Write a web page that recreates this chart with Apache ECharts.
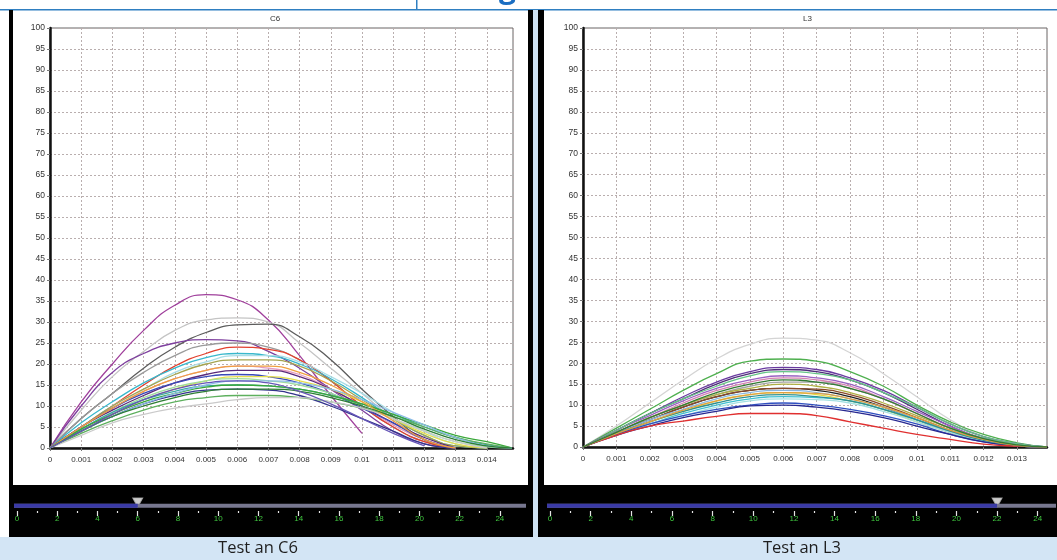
<!DOCTYPE html>
<html>
<head>
<meta charset="utf-8">
<script src="https://cdn.jsdelivr.net/npm/echarts@6/dist/echarts.min.js"></script>
<style>
  html, body { margin: 0; padding: 0; background: #fff; }
  #main { width: 1057px; height: 560px; }
</style>
</head>
<body>
<div id="main"></div>
<script>
// x samples (strain) for each panel
var c6X = [0, 0.001, 0.002, 0.003, 0.004, 0.005, 0.006, 0.007, 0.008, 0.009, 0.010, 0.011, 0.012, 0.013, 0.014, 0.0148];
var l3X = [0, 0.001, 0.002, 0.003, 0.004, 0.005, 0.006, 0.007, 0.008, 0.009, 0.010, 0.011, 0.012, 0.013, 0.0139];

// C6 curves (force values at each x sample)
var c6Values = [
  [0, 11, 20, 28, 34, 36.5, 35.3, 30.5, 22, 12.5, 3.5],
  [0, 9, 17, 23, 28, 30.5, 31, 30, 25, 19, 13, 7, 2, 0],
  [0, 7, 13, 19, 24, 27.5, 29.3, 29.5, 26.5, 21, 14, 7.5, 2, 0],
  [0, 10, 18, 22.5, 25, 25.8, 25.5, 23, 19, 14, 9, 4, 1, 0],
  [0, 7, 13, 18, 22, 24.5, 25, 24, 21, 16, 10, 5, 1.5, 0],
  [0, 5, 10, 15, 19.5, 22.5, 24, 23.5, 21, 16, 10, 5, 1.5, 0],
  [0, 6, 11, 15.5, 19, 21.5, 22.5, 22, 20, 16.5, 12, 7, 3, 0.5, 0],
  [0, 5, 10, 14, 18, 20.5, 22, 22, 20.5, 17, 13, 8.5, 4, 1, 0],
  [0, 5, 10, 14, 17.5, 20, 21, 21, 19.5, 16, 11.5, 7, 3, 0.5, 0],
  [0, 5, 9.5, 13.5, 16.5, 18.5, 19.5, 19, 17.5, 14, 10, 5.5, 2, 0],
  [0, 5, 9, 12.5, 15.5, 17.5, 18.5, 18.5, 17, 14, 10, 6, 2.5, 0],
  [0, 5, 9.5, 13, 15.5, 17, 17.5, 17, 15.5, 13, 9.5, 6, 2, 0],
  [0, 4, 8, 11.5, 14, 16, 17, 17, 16, 14, 11, 7, 3.5, 1, 0],
  [0, 4.5, 8.5, 12, 14.5, 16, 16.5, 16, 15, 13, 10, 7, 4, 1.5, 0.3, 0],
  [0, 4.5, 8.5, 11.5, 13.5, 14.8, 15, 14.8, 14, 12.5, 10.5, 8, 5, 2.5, 0.8, 0],
  [0, 4.5, 8, 11, 13, 14.5, 15, 14.8, 14, 12.5, 10.5, 8, 5.5, 3, 1.5, 0],
  [0, 4, 7.5, 10.5, 12.5, 13.8, 14, 13.8, 12.5, 10, 7, 4, 1, 0],
  [0, 3.5, 6.5, 9, 11, 12, 12.5, 12.5, 12, 11, 9.5, 7.5, 5, 2.5, 1, 0],
  [0, 4, 7.5, 10.5, 13, 15, 16, 16, 15.5, 14, 11.5, 8.5, 5.5, 2.5, 0.5, 0],
  [0, 3, 6, 8, 9.5, 10.5, 11.5, 12, 12, 11, 9.5, 7, 4, 1.5, 0],
  [0, 5, 9.5, 13.5, 16.5, 18.5, 19.5, 19.5, 18, 15, 11, 6.5, 2, 0],
  [0, 4, 7.5, 10, 12, 13.5, 14, 14, 13.5, 12, 10, 7.5, 4.5, 2, 0.5, 0],
  [0, 4, 8, 11.5, 14, 15.5, 16, 15.5, 13.5, 10.5, 7, 3.5, 0.5]
];
var c6Colors = ['#a0409c', '#c4c4c4', '#5c5c5c', '#7e3f9e', '#9a9a9a', '#e2402e', '#38b8cc', '#a8dde6',
  '#a4a450', '#e49ac0', '#5a2a7a', '#3a4ab8', '#e6de4c', '#9edc9e', '#3ea8a8', '#3aa83a',
  '#34348c', '#5eb05e', '#8cbce6', '#cacaca', '#f0a040', '#2f7f35', '#6656b8'];

// L3 curves
var l3Values = [
  [0, 5, 10.5, 16, 21, 24.5, 26, 25.5, 22.5, 17.5, 12, 6.5, 2.5, 0.5, 0],
  [0, 4.5, 9, 13.5, 17.5, 20.5, 21, 20.5, 18, 14.5, 10, 6, 3, 1, 0],
  [0, 4, 8, 12, 15.5, 18, 19, 18.5, 16.5, 13.5, 9.5, 5.5, 2.5, 0.8, 0],
  [0, 4, 8, 11.5, 15, 17.5, 18.5, 18, 16, 13, 9, 5, 2, 0.5, 0],
  [0, 4, 7.5, 11, 14, 16, 17, 16.5, 15, 12, 8.5, 5, 2, 0.5, 0],
  [0, 3.5, 7, 10.5, 13.5, 15.5, 16.5, 16, 14.5, 11.5, 8, 4.5, 1.8, 0.4, 0],
  [0, 4, 8, 11.5, 14.5, 17, 18, 17.5, 16, 13, 9.5, 5.5, 2.5, 0.8, 0],
  [0, 3.5, 7, 10, 12.5, 14.5, 15.5, 15.5, 14, 11.5, 8, 4.5, 2, 0.5, 0],
  [0, 3.5, 7, 10, 12.5, 14, 15, 14.5, 13, 10.5, 7.5, 4.5, 2, 0.5, 0],
  [0, 3.5, 6.5, 9.5, 12, 13.5, 14, 13.5, 12, 9.5, 6.5, 3.5, 1.5, 0.3, 0],
  [0, 3.5, 6.5, 9.5, 12, 13.5, 14, 13.8, 12.5, 10, 7, 4, 1.5, 0.3, 0],
  [0, 3, 6, 8.5, 11, 12.5, 13, 12.5, 11, 9, 6, 3.5, 1.5, 0.3, 0],
  [0, 3.5, 6.5, 9, 11.5, 13, 13.5, 13, 11.5, 9.5, 6.5, 3.5, 1.5, 0.3, 0],
  [0, 3, 5.5, 8, 10, 11.5, 12, 11.8, 11, 9, 6.5, 4, 2, 0.5, 0],
  [0, 3, 5.5, 7.5, 9.5, 11, 11.5, 11.3, 10.5, 8.5, 6, 3.5, 1.5, 0.3, 0],
  [0, 3, 5.5, 7.5, 9, 10, 10.5, 10, 9, 7.5, 5.5, 3, 1.2, 0.3, 0],
  [0, 2.8, 5, 7, 8.5, 9.8, 10, 9.5, 8.5, 7, 5, 3, 1.2, 0.3, 0],
  [0, 2.8, 5, 6.2, 7.3, 8, 8, 7.5, 6, 4.5, 3, 1.8, 0.7, 0.2, 0],
  [0, 3.2, 6, 8.5, 10.5, 12, 12.5, 12, 11, 9, 6.5, 3.8, 1.6, 0.4, 0],
  [0, 3.2, 6, 8.8, 11, 12.5, 13, 12.8, 11.5, 9.5, 7, 4, 1.8, 0.4, 0],
  [0, 3.5, 7, 10, 13, 15, 16, 15.5, 14, 11.5, 8, 4.5, 2, 0.5, 0]
];
var l3Colors = ['#d4d4d4', '#4fb04f', '#6a3aa0', '#4e2e7a', '#9a62c2', '#d482b2', '#64c486', '#a4a4a4',
  '#b0b044', '#222222', '#8a4a2a', '#e2da44', '#8ab8e0', '#40c0d0', '#a4e0e2', '#3050c0',
  '#282890', '#e03030', '#309090', '#e0a040', '#347a34'];

// sliders under each panel
var sliderMajor = [0, 2, 4, 6, 8, 10, 12, 14, 16, 18, 20, 22, 24];
var sliderMinor = [1, 3, 5, 7, 9, 11, 13, 15, 17, 19, 21, 23];
var sliderValues = [6, 22];
var trackStarts = [-0.15, -0.15];
var trackEnds = [25.3, 24.9];

var chart = echarts.init(document.getElementById('main'));

function strainLabel(v) {
  var k = Math.round(v * 1000);
  if (Math.abs(v * 1000 - k) > 1e-6) return '';
  return k === 0 ? '0' : String(+(k / 1000).toFixed(3));
}

var gridLine = { show: true, lineStyle: { color: '#b9aeae', type: [2, 2], width: 1 } };

function plotX(grid, max) {
  return {
    type: 'value', gridIndex: grid, min: 0, max: max, interval: 0.001,
    axisLine: { show: true, onZero: false, lineStyle: { color: '#111', width: 2.5 } },
    axisTick: { show: true, length: 3, lineStyle: { color: '#777' } },
    axisLabel: { fontSize: 8, color: '#333', margin: 8, fontFamily: 'Liberation Sans', formatter: strainLabel, showMaxLabel: false },
    splitLine: gridLine
  };
}
function plotY(grid) {
  return {
    type: 'value', gridIndex: grid, min: 0, max: 100, interval: 5,
    axisLine: { show: true, onZero: false, lineStyle: { color: '#111', width: 2.5 } },
    axisTick: { show: true, length: 3, lineStyle: { color: '#777' } },
    axisLabel: { fontSize: 8.5, color: '#333', margin: 5, fontFamily: 'Liberation Sans' },
    splitLine: gridLine
  };
}
function sliderX(grid, k, ticks, len, labels) {
  return {
    type: 'value', gridIndex: grid, position: 'bottom', offset: 0,
    min: trackStarts[k], max: trackEnds[k],
    axisLine: { show: false },
    axisTick: { show: true, length: len, customValues: ticks, lineStyle: { color: '#e4e4e4', width: 1.2 } },
    axisLabel: { show: labels, customValues: ticks, fontSize: 8, color: '#3ec43e', margin: 4, fontFamily: 'Liberation Sans' },
    splitLine: { show: false }
  };
}
function sliderY(grid) {
  return { type: 'value', gridIndex: grid, min: 0, max: 1, show: false };
}

var series = [];
c6Values.forEach(function (ys, i) {
  series.push({
    type: 'line', xAxisIndex: 0, yAxisIndex: 0, smooth: 0.5, showSymbol: false, silent: true,
    data: ys.map(function (y, j) { return [c6X[j], y]; }),
    lineStyle: { width: 1.3, color: c6Colors[i] }
  });
});
l3Values.forEach(function (ys, i) {
  series.push({
    type: 'line', xAxisIndex: 1, yAxisIndex: 1, smooth: 0.5, showSymbol: false, silent: true,
    data: ys.map(function (y, j) { return [l3X[j], y]; }),
    lineStyle: { width: 1.3, color: l3Colors[i] }
  });
});
[0, 1].forEach(function (k) {
  var ax = 2 + k * 2;
  var gy = 2 + k;
  series.push({
    type: 'line', xAxisIndex: ax, yAxisIndex: gy, showSymbol: false, silent: true,
    data: [[trackStarts[k], 0.4], [trackEnds[k], 0.4]],
    lineStyle: { width: 4, color: '#77778f' }
  });
  series.push({
    type: 'line', xAxisIndex: ax, yAxisIndex: gy, showSymbol: false, silent: true,
    data: [[trackStarts[k], 0.4], [sliderValues[k], 0.4]],
    lineStyle: { width: 4, color: '#3a3aa6' }
  });
  series.push({
    type: 'scatter', xAxisIndex: ax, yAxisIndex: gy, clip: false, silent: true,
    symbol: 'triangle', symbolRotate: 180, symbolSize: [10, 9],
    data: [[sliderValues[k], 0.65]],
    itemStyle: { color: '#ffffff', borderColor: '#b0b0b0', borderWidth: 1 }
  });
});

var option = {
  animation: false,
  backgroundColor: '#ffffff',
  title: [
    { text: 'C6', left: 265, top: 10, textStyle: { fontSize: 8, fontWeight: 'normal', color: '#333', fontFamily: 'Liberation Sans' } },
    { text: 'L3', left: 798, top: 10, textStyle: { fontSize: 8, fontWeight: 'normal', color: '#333', fontFamily: 'Liberation Sans' } }
  ],
  grid: [
    { left: 50, top: 28, width: 463, height: 420, show: true, backgroundColor: '#fff', borderColor: '#666', borderWidth: 1 },
    { left: 583, top: 28, width: 464, height: 419, show: true, backgroundColor: '#fff', borderColor: '#666', borderWidth: 1 },
    { left: 14, top: 498, width: 512, height: 13 },
    { left: 547, top: 498, width: 509, height: 13 }
  ],
  xAxis: [plotX(0, 0.01484), plotX(1, 0.0139),
    sliderX(2, 0, sliderMajor, 5, true), sliderX(2, 0, sliderMinor, 2, false),
    sliderX(3, 1, sliderMajor, 5, true), sliderX(3, 1, sliderMinor, 2, false)],
  yAxis: [plotY(0), plotY(1), sliderY(2), sliderY(3)],
  graphic: [
    { type: 'rect', z: -1, shape: { x: 0, y: 9, width: 1057, height: 1.5 }, style: { fill: '#2f7fc1' } },
    { type: 'rect', z: -1, shape: { x: 416, y: 0, width: 1.5, height: 9 }, style: { fill: '#2f7fc1' } },
    { type: 'text', z: -1, x: 499, y: -26, style: { text: 'g', font: 'bold 30px "Open Sans"', fill: '#1b6ec2' } },
    { type: 'rect', z: -1, shape: { x: 9, y: 10, width: 4, height: 527 }, style: { fill: '#000' } },
    { type: 'rect', z: -1, shape: { x: 9, y: 485, width: 524, height: 52 }, style: { fill: '#000' } },
    { type: 'rect', z: -1, shape: { x: 528, y: 10, width: 5, height: 527 }, style: { fill: '#000' } },
    { type: 'rect', z: -1, shape: { x: 533, y: 10, width: 5, height: 527 }, style: { fill: '#cfe2f3' } },
    { type: 'rect', z: -1, shape: { x: 538, y: 10, width: 6, height: 527 }, style: { fill: '#000' } },
    { type: 'rect', z: -1, shape: { x: 538, y: 485, width: 519, height: 52 }, style: { fill: '#000' } },
    { type: 'rect', z: -1, shape: { x: 0, y: 537, width: 1057, height: 23 }, style: { fill: '#d3e5f5' } },
    { type: 'text', z: 10, x: 258, y: 548, style: { text: 'Test an C6', font: '16.5px "Open Sans"', fill: '#1e1e1e', textAlign: 'center', textVerticalAlign: 'middle' } },
    { type: 'text', z: 10, x: 802, y: 548, style: { text: 'Test an L3', font: '16.5px "Open Sans"', fill: '#1e1e1e', textAlign: 'center', textVerticalAlign: 'middle' } }
  ],
  series: series
};

chart.setOption(option);
</script>
</body>
</html>
